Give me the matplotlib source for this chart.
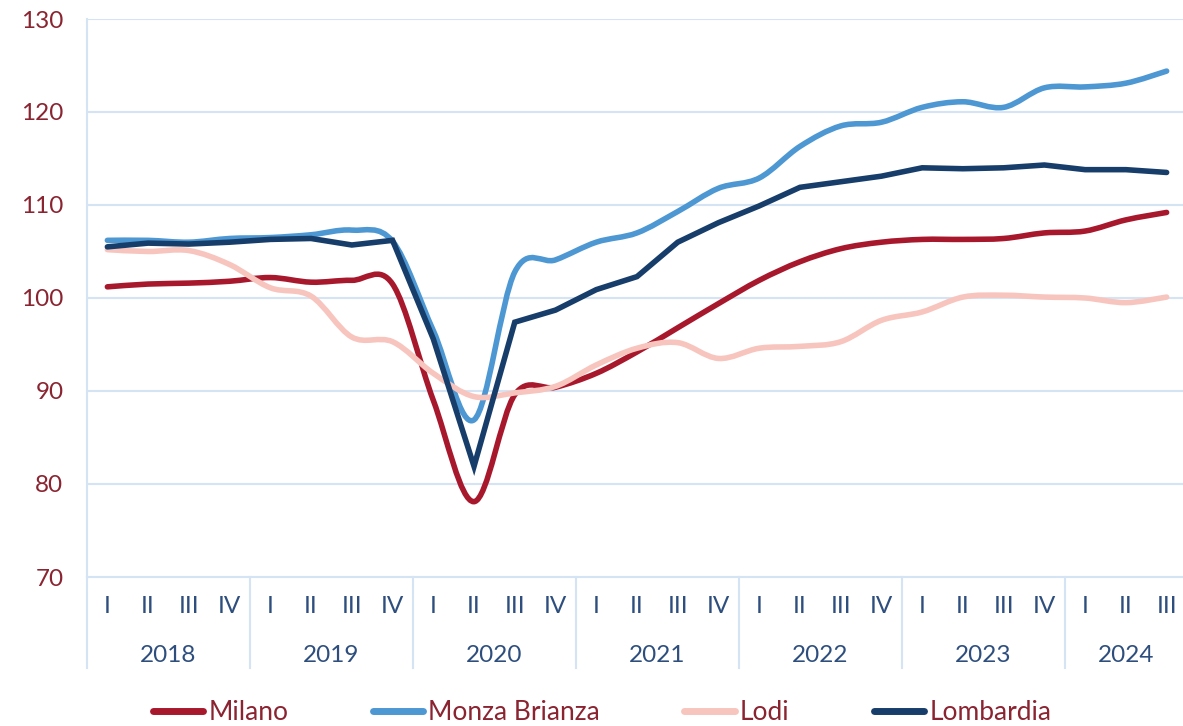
import numpy as np
import matplotlib.pyplot as plt
from matplotlib.path import Path
from matplotlib.patches import PathPatch
from matplotlib.lines import Line2D

plt.rcParams['font.family'] = ['Lato', 'DejaVu Sans']

years = ['2018', '2019', '2020', '2021', '2022', '2023', '2024']
quarters_per_year = [4, 4, 4, 4, 4, 4, 3]
quarter_names = ['I', 'II', 'III', 'IV']

milano = [101.2, 101.5, 101.6, 101.8, 102.2, 101.7, 101.9, 101.5,
          89.0, 78.1, 89.6, 90.4, 91.9, 94.2, 96.8, 99.4,
          101.9, 103.9, 105.3, 106.0, 106.3, 106.3, 106.4, 107.0,
          107.2, 108.4, 109.2]
monza = [106.2, 106.2, 106.0, 106.4, 106.5, 106.8, 107.3, 106.1,
         96.5, 86.9, 102.8, 104.1, 106.0, 107.0, 109.3, 111.8,
         112.9, 116.3, 118.5, 118.9, 120.5, 121.1, 120.5, 122.6,
         122.7, 123.1, 124.4]
lodi = [105.2, 105.0, 105.1, 103.6, 101.1, 100.2, 95.8, 95.3,
        91.9, 89.4, 89.8, 90.5, 92.8, 94.6, 95.2, 93.5,
        94.6, 94.8, 95.3, 97.6, 98.5, 100.1, 100.3, 100.1,
        100.0, 99.5, 100.1]
lombardia = [105.5, 105.9, 105.8, 106.0, 106.3, 106.4, 105.7, 106.2,
             95.6, 81.9, 97.4, 98.7, 100.9, 102.3, 106.0, 108.1,
             109.9, 111.9, 112.5, 113.1, 114.0, 113.9, 114.0, 114.3,
             113.8, 113.8, 113.5]

series = [
    ('Milano', milano, '#A8182D', True),
    ('Monza Brianza', monza, '#4D97D3', True),
    ('Lodi', lodi, '#F7C5BE', True),
    ('Lombardia', lombardia, '#173D6A', False),
]

grid_col = '#D5E4F4'
ytick_col = '#8A2431'
xtick_col = '#2E4F7E'
fs = 17.5


def smooth_path(x, y):
    # Excel-style smoothed line: cubic Bezier through each point
    pts = np.column_stack([x, y])
    n = len(pts)
    verts = [pts[0]]
    codes = [Path.MOVETO]
    for i in range(n - 1):
        p0 = pts[max(i - 1, 0)]
        p1 = pts[i]
        p2 = pts[i + 1]
        p3 = pts[min(i + 2, n - 1)]
        c1 = p1 + (p2 - p0) / 6.0
        c2 = p2 - (p3 - p1) / 6.0
        verts += [c1, c2, p2]
        codes += [Path.CURVE4] * 3
    return Path(verts, codes)


fig = plt.figure(figsize=(11.83, 7.26), dpi=100)
ax = fig.add_axes([87 / 1183, 149 / 726, 1100 / 1183, 558 / 726])

n = len(milano)
x = np.arange(n)
lw = 4.0
for name, vals, col, smooth in series:
    if smooth:
        patch = PathPatch(smooth_path(x, np.array(vals)), facecolor='none',
                          edgecolor=col, lw=lw, capstyle='round',
                          joinstyle='round', zorder=3)
        ax.add_patch(patch)
    else:
        ax.plot(x, vals, color=col, lw=lw, solid_capstyle='round',
                solid_joinstyle='miter', zorder=3)

ax.set_xlim(-0.5, n - 0.5)
ax.set_ylim(70, 130)
ax.set_yticks(np.arange(70, 131, 10))
ax.tick_params(axis='y', length=0, pad=17, labelsize=fs, labelcolor=ytick_col)
ax.set_xticks([])
for v in range(80, 131, 10):
    ax.axhline(v, color=grid_col, lw=1.5, zorder=1)
for s in ['top', 'right']:
    ax.spines[s].set_visible(False)
ax.spines['left'].set_color(grid_col)
ax.spines['left'].set_linewidth(1.5)
ax.spines['bottom'].set_color(grid_col)
ax.spines['bottom'].set_linewidth(1.5)

# category axis: quarters and years
trans = ax.get_xaxis_transform()
pos = 0
bounds = [-0.5]
for yr, nq in zip(years, quarters_per_year):
    for q in range(nq):
        ax.text(pos + q, -0.053, quarter_names[q], transform=trans, ha='center',
                va='center', fontsize=fs, color=xtick_col)
    ax.text(pos + (nq - 1) / 2, -0.14, yr, transform=trans, ha='center',
            va='center', fontsize=fs, color=xtick_col)
    pos += nq
    bounds.append(pos - 0.5)
for b in bounds[:-1]:
    ax.plot([b, b], [0, -0.163], transform=trans, color=grid_col, lw=1.5,
            clip_on=False)

handles = [Line2D([], [], color=col, lw=5, solid_capstyle='round')
           for _, _, col, _ in series]
labels = [name for name, _, _, _ in series]
leg = fig.legend(handles, labels, loc='center', bbox_to_anchor=(0.509, 0.018),
                 ncol=4, frameon=False, fontsize=fs + 1.5, handlelength=1.9,
                 handletextpad=0.2, columnspacing=3.2)
for t in leg.get_texts():
    t.set_color(ytick_col)

fig.savefig('out.png', dpi=100)
